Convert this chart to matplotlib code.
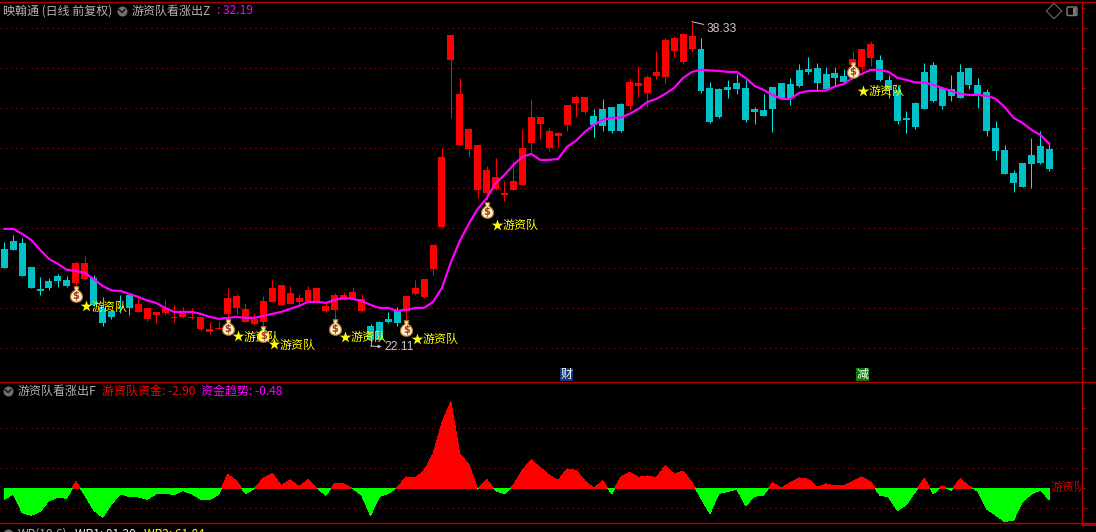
# -*- coding: utf-8 -*-
import numpy as np
import matplotlib
matplotlib.use('Agg')
import matplotlib.pyplot as plt
from matplotlib.patches import FancyBboxPatch, Rectangle
from matplotlib.path import Path

plt.rcParams['font.family'] = ['Noto Sans CJK SC', 'DejaVu Sans']

# daily bars, oldest first
open_ = [26.97, 27.37, 27.27, 26.07, 24.97, 25.37, 25.62, 25.42, 25.27, 25.47,
         25.52, 24.02, 23.87, 24.07, 24.67, 23.82, 23.47, 23.67, 23.77, 23.52,
         23.57, 23.52, 22.97, 22.82, 22.97, 23.72, 24.02, 23.32, 23.22, 23.32,
         24.32, 24.17, 24.22, 24.32, 24.32, 24.32, 23.87, 23.92, 24.42, 24.47,
         23.87, 23.12, 23.32, 23.47, 23.87, 23.87, 24.72, 24.57, 25.97, 28.07,
         36.42, 32.17, 31.97, 29.92, 29.77, 29.97, 29.67, 29.92, 30.17, 32.27,
         33.22, 32.02, 32.62, 33.17, 34.27, 33.82, 33.62, 33.97, 34.07, 34.22,
         34.12, 35.12, 34.77, 35.62, 35.57, 36.87, 36.32, 36.97, 36.97, 35.02,
         34.97, 35.07, 35.27, 35.02, 33.97, 33.92, 35.07, 35.27, 35.22, 35.92,
         35.97, 36.02, 35.72, 35.77, 35.62, 36.17, 36.07, 36.52, 36.42, 35.42,
         34.92, 33.52, 34.27, 35.82, 36.17, 35.02, 34.97, 35.82, 36.02, 35.17,
         34.82, 33.02, 31.92, 30.77, 31.27, 31.67, 32.12, 31.97]
close = [26.04, 26.92, 25.62, 25.02, 24.87, 25.02, 25.37, 25.12, 26.27, 26.27,
         24.17, 23.27, 23.57, 24.02, 24.02, 24.22, 24.02, 23.82, 24.02, 23.57,
         23.77, 23.57, 23.57, 22.97, 23.02, 24.52, 24.62, 23.97, 23.47, 24.37,
         25.02, 25.17, 24.77, 24.52, 24.92, 25.02, 24.12, 24.67, 24.67, 24.82,
         24.47, 22.42, 22.42, 23.32, 23.27, 24.62, 25.02, 25.47, 27.17, 31.57,
         37.67, 34.72, 32.97, 32.17, 30.92, 30.57, 29.77, 30.37, 32.02, 33.57,
         33.57, 32.87, 32.77, 34.17, 34.57, 34.57, 33.17, 33.12, 32.87, 32.87,
         35.32, 35.27, 35.57, 35.82, 37.42, 37.52, 37.72, 37.62, 34.87, 33.32,
         33.57, 34.92, 34.97, 33.42, 33.82, 33.62, 33.97, 34.52, 34.52, 35.12,
         35.82, 35.27, 34.97, 35.52, 35.32, 36.47, 36.97, 37.22, 35.42, 34.92,
         33.37, 33.42, 33.07, 33.97, 34.37, 34.12, 34.62, 34.52, 35.17, 34.72,
         32.87, 31.87, 30.72, 30.27, 30.07, 31.22, 31.27, 30.97]
high = [27.32, 27.67, 27.52, 26.07, 25.57, 25.52, 25.72, 25.62, 26.37, 26.62,
        25.67, 24.57, 23.92, 24.67, 24.67, 24.57, 24.02, 23.82, 24.42, 24.17,
        24.07, 24.02, 23.57, 23.32, 23.37, 25.02, 24.72, 24.27, 23.77, 24.62,
        25.42, 25.17, 25.12, 24.72, 25.12, 25.02, 24.27, 24.77, 24.82, 25.07,
        24.72, 23.22, 23.37, 23.82, 24.07, 24.67, 25.42, 25.47, 27.22, 32.02,
        37.67, 35.52, 33.02, 32.17, 31.12, 31.52, 30.37, 31.37, 32.97, 34.47,
        33.57, 33.07, 32.82, 34.17, 34.67, 34.57, 33.97, 34.47, 34.07, 34.27,
        35.52, 36.12, 35.67, 36.87, 37.52, 37.62, 37.72, 38.33, 37.52, 35.32,
        35.02, 35.42, 35.72, 35.42, 34.07, 34.72, 35.07, 35.27, 35.52, 36.22,
        36.57, 36.27, 36.07, 36.07, 35.97, 36.87, 36.97, 37.37, 36.67, 35.67,
        35.17, 33.87, 34.32, 36.27, 36.32, 35.02, 35.67, 36.22, 36.02, 35.52,
        34.97, 33.37, 32.17, 30.92, 31.27, 32.52, 32.87, 32.32]
low = [26.04, 26.92, 25.62, 25.02, 24.67, 24.92, 25.07, 25.07, 25.12, 25.42,
       24.12, 23.12, 23.47, 23.77, 23.67, 23.82, 23.37, 23.27, 23.67, 23.32,
       23.52, 23.47, 22.87, 22.72, 22.92, 23.17, 23.72, 23.32, 23.17, 23.12,
       24.32, 24.17, 24.22, 24.12, 24.32, 24.32, 23.82, 23.42, 24.42, 24.47,
       23.82, 22.11, 22.42, 23.27, 23.12, 23.42, 24.67, 24.52, 25.67, 28.07,
       33.52, 32.17, 31.57, 29.52, 29.42, 29.92, 29.37, 29.92, 30.17, 31.77,
       32.47, 31.87, 32.07, 32.87, 33.57, 33.72, 32.57, 32.87, 32.77, 32.82,
       33.92, 34.57, 34.07, 35.47, 35.22, 36.57, 36.22, 36.82, 34.77, 33.27,
       33.52, 34.52, 34.72, 33.32, 33.22, 33.62, 32.82, 34.52, 34.17, 35.07,
       35.72, 34.92, 34.92, 35.12, 35.27, 36.17, 35.87, 36.12, 35.37, 34.52,
       33.22, 32.77, 32.97, 33.97, 34.32, 33.97, 34.37, 34.52, 34.97, 34.02,
       32.62, 31.42, 30.72, 29.82, 30.07, 30.02, 31.22, 30.87]

# 游资队看涨出Z line
trend_z = [27.97, 27.97, 27.72, 27.42, 26.92, 26.47, 26.22, 25.92, 25.87, 25.77,
           25.47, 25.12, 24.89, 24.87, 24.72, 24.57, 24.39, 24.27, 24.02, 23.82,
           23.82, 23.82, 23.72, 23.57, 23.47, 23.52, 23.57, 23.52, 23.52, 23.62,
           23.72, 23.82, 23.97, 24.12, 24.32, 24.32, 24.27, 24.42, 24.52, 24.47,
           24.37, 24.17, 24.02, 24.02, 23.87, 23.92, 24.02, 24.02, 24.32, 25.02,
           26.30, 27.37, 28.22, 28.97, 29.50, 30.25, 30.67, 31.17, 31.57, 31.72,
           31.42, 31.42, 31.47, 32.07, 32.37, 32.82, 33.17, 33.42, 33.52, 33.53,
           33.72, 33.97, 34.32, 34.47, 34.72, 35.02, 35.52, 35.82, 35.93, 35.89,
           35.87, 35.82, 35.82, 35.52, 35.12, 34.92, 34.67, 34.47, 34.47, 34.77,
           34.87, 34.87, 34.89, 35.09, 35.22, 35.52, 35.72, 35.92, 35.92, 35.82,
           35.52, 35.42, 35.29, 35.29, 35.17, 35.02, 34.87, 34.72, 34.67, 34.67,
           34.62, 34.47, 34.07, 33.52, 33.27, 32.92, 32.67, 32.22]

# 游资队资金 lower panel
fund = [-2.75, -1.42, -6.08, -6.75, -5.83, -3.08, -2.25, -2.50, 1.67, -1.67,
        -5.42, -7.25, -3.92, -1.42, -2.08, -2.17, -2.75, -1.42, -1.25, -1.58,
        -0.58, -1.42, -2.75, -2.75, -1.58, 3.50, 1.83, -1.33, -0.08, 2.50,
        3.75, 0.67, 2.08, 0.42, 2.08, 0.08, -1.75, 1.25, 1.08, -0.08,
        -1.67, -6.75, -2.08, -1.25, 0.25, 2.83, 2.58, 4.42, 8.58, 16.42,
        21.67, 8.42, 6.08, -0.25, 2.25, -0.58, -1.33, 0.75, 4.58, 7.08,
        5.17, 3.33, 1.92, 4.83, 4.50, 1.83, 0.00, 1.83, -1.42, 2.75,
        4.00, 2.75, 3.08, 2.67, 5.58, 3.58, 4.25, 1.42, -2.50, -6.33,
        -1.25, -0.83, -0.17, -4.33, -2.00, -1.67, 1.33, 0.08, 1.42, 2.58,
        2.25, 0.25, 1.08, 0.58, 0.58, 1.75, 2.83, 1.58, -1.67, -2.17,
        -5.58, -4.08, -0.83, 2.50, -1.33, 0.58, -0.58, 2.33, 0.58, -0.75,
        -5.17, -6.75, -8.33, -7.92, -3.33, -1.42, -0.42, -2.90]

# signal bars and where the bag / star sit
signal_idx = [8, 25, 29, 37, 45, 54, 95]
bag_price = [24.72, 23.07, 22.72, 23.07, 23.02, 28.92, 35.92]
star_price = [24.10, 22.60, 22.20, 22.57, 22.47, 28.17, 34.87]
signal_text = '游资队'

price_ticks = [22, 24, 26, 28, 30, 32, 34, 36, 38]
price_minor = [21, 23, 25, 27, 29, 31, 33, 35, 37, 39]
fund_ticks = [-5, 5, 15]
fund_minor = [0, 10, 20]

RED = '#ff0000'
CYAN = '#00c0c8'
CYAN_WICK = '#00e8e8'
MAGENTA = '#ff00ff'
AXIS = '#b00000'
GRID = '#a00000'
GRAY = '#b4b4b4'
W, H = 1096, 532
PX = 0.72
TXT = 12 * PX

open_, close, high, low = map(np.array, (open_, close, high, low))
trend_z = np.array(trend_z)
fund = np.array(fund)
x = np.arange(len(close))
up = close >= open_

# money bag outline for scatter, y up
BAG = Path([(-0.30, 1.0), (0.30, 1.0), (0.18, 0.55), (0.18, 0.55),
            (1.0, 0.2), (1.0, -1.0), (0.0, -1.0),
            (-1.0, -1.0), (-1.0, 0.2), (-0.18, 0.55), (-0.30, 1.0)],
           [Path.MOVETO, Path.LINETO, Path.LINETO, Path.LINETO,
            Path.CURVE4, Path.CURVE4, Path.CURVE4,
            Path.CURVE4, Path.CURVE4, Path.CURVE4, Path.LINETO])

fig = plt.figure(figsize=(W / 100, H / 100), dpi=100, facecolor='black')


def make_axes(top, bottom):
    a = fig.add_axes([0, 1 - bottom / H, 1081.5 / W, (bottom - top) / H])
    a.set_facecolor('black')
    a.patch.set_alpha(0)
    for s in ['top', 'left', 'bottom']:
        a.spines[s].set_visible(False)
    a.spines['right'].set_color(AXIS)
    a.spines['right'].set_linewidth(1.4 * PX)
    a.yaxis.tick_right()
    a.set_xticks([])
    a.tick_params(axis='y', which='major', color=AXIS, length=5 * PX, width=PX, labelright=False)
    a.tick_params(axis='y', which='minor', color=AXIS, length=3 * PX, width=PX)
    a.set_xlim(-0.4815, 120.6)
    return a


# main panel
ax = make_axes(1.5, 382.3)
ax.set_ylim(39.415 - 382.3 / 20, 39.415 - 1.5 / 20)
ax.set_yticks(price_ticks)
ax.set_yticks(price_minor, minor=True)
ax.grid(axis='y', which='major', color=GRID, lw=PX, linestyle=(0, (1.2, 4)))
ax.set_axisbelow(True)

ax.vlines(x[up], low[up], high[up], color=RED, lw=PX, zorder=2)
ax.vlines(x[~up], low[~up], high[~up], color=CYAN_WICK, lw=PX, zorder=2)
ax.bar(x[up], (close - open_)[up], bottom=open_[up], width=0.78, color=RED, lw=0, zorder=3)
ax.bar(x[~up], (close - open_)[~up], bottom=open_[~up], width=0.78, color=CYAN, lw=0, zorder=3)
ax.plot(x, trend_z, color=MAGENTA, lw=2.2 * PX, zorder=4)

# bags and stars
sig = np.array(signal_idx)
bag = np.array(bag_price)
ax.scatter(sig, bag, s=125, marker=BAG, facecolor='#fdf0b8', edgecolor='#a87830', lw=0.8, zorder=6)
for i, b, s in zip(signal_idx, bag_price, star_price):
    ax.text(i, b - 0.1, '$', color='#a03a30', fontsize=7, fontweight='bold',
            ha='center', va='center', family='DejaVu Sans', zorder=7)
    ax.text(i + 1.8, s - 0.05, signal_text, color='#ffff00', fontsize=TXT, ha='left', va='center', zorder=7)
ax.scatter(sig + 1.15, star_price, s=75, marker='*', color='#ffff00', lw=0, zorder=7)

# high and low tags
top_i = int(np.argmax(high))
bot_i = int(np.argmin(low))
ax.annotate('%.2f' % high[top_i], xy=(top_i, high[top_i]), xytext=(10.5, -5),
            textcoords='offset points', color='#c8c8c8', fontsize=TXT, va='center',
            family='Liberation Sans',
            arrowprops=dict(arrowstyle='-', color='#c8c8c8', lw=0.7, shrinkA=0, shrinkB=0))
ax.annotate('%.2f' % low[bot_i], xy=(bot_i, low[bot_i]), xytext=(10, -1),
            textcoords='offset points', color='#c8c8c8', fontsize=TXT, va='center',
            family='Liberation Sans',
            arrowprops=dict(arrowstyle='<-', color='#c8c8c8', lw=0.7, shrinkA=0, shrinkB=0,
                            mutation_scale=5))

# lower panel
ax2 = make_axes(382.3, 523.3)
ax2.set_ylim((488.3 - 523.3) / 4, (488.3 - 382.3) / 4)
ax2.set_yticks(fund_ticks)
ax2.set_yticks(fund_minor, minor=True)
ax2.grid(axis='y', which='major', color=GRID, lw=PX, linestyle=(0, (1.2, 4)))
ax2.set_axisbelow(True)
ax2.fill_between(x, fund, 0, where=fund >= 0, interpolate=True, color=RED, lw=0, antialiased=False, zorder=2)
ax2.fill_between(x, fund, 0, where=fund <= 0, interpolate=True, color='#00ff00', lw=0, antialiased=False, zorder=2)

# overlay in pixels for header text and frame
ov = fig.add_axes([0, 0, 1, 1])
ov.set_xlim(0, W)
ov.set_ylim(H, 0)
ov.axis('off')
ov.patch.set_alpha(0)

for yy in [1.5, 382.3, 523.3]:
    ov.plot([0, W], [yy, yy], color=AXIS, lw=1.4 * PX, clip_on=False)
ov.plot([1081.5, W], [524.5, 524.5], color=AXIS, lw=2 * PX)


def label(px_x, px_y, s, color, **kw):
    return ov.text(px_x, px_y, s, color=color, fontsize=TXT, ha='left', va='center', clip_on=False, **kw)


def chevron(cx, cy):
    ov.scatter([cx], [cy], s=52, color='#707070', lw=0)
    ov.plot([cx - 3, cx, cx + 3], [cy - 1.5, cy + 1.5, cy - 1.5], color='#101010', lw=1.3 * PX)


label(3, 11, '映翰通 (日线 前复权)', GRAY)
chevron(122, 11)
label(132, 11, '游资队看涨出Z', GRAY)
label(217, 11, ': 32.19', MAGENTA)

chevron(8, 391)
label(18, 391, '游资队看涨出F', GRAY)
label(102, 391, '游资队资金: -2.90', RED)
label(201, 391, '资金趋势: -0.48', MAGENTA)

chevron(8, 534)
label(18, 534, 'WR(10,6)', GRAY)
label(75, 534, 'WR1: 81.20', '#f0f0f0')
label(144, 534, 'WR2: 61.84', '#ffff00')

tag = label(1051, 487, '游资队', '#d00000')
tag.set_clip_on(True)
tag.set_clip_box(matplotlib.transforms.Bbox([[0, 0], [1081, H]]))

# 财 / 减 tags
ov.add_patch(Rectangle((560, 368), 13, 13, color='#103a78', lw=0))
ov.text(566.5, 374.2, '财', color='white', fontsize=TXT, ha='center', va='center')
ov.add_patch(Rectangle((856, 368), 13, 13, color='#0a7a0a', lw=0))
ov.text(862.5, 374.2, '减', color='white', fontsize=TXT, ha='center', va='center')

# window buttons
ov.scatter([1054], [11], s=62, marker='D', facecolor='none', edgecolor='#787878', lw=0.7)
ov.add_patch(FancyBboxPatch((1067, 7), 10, 8.5, boxstyle='round,pad=0,rounding_size=1.5',
                            facecolor='none', edgecolor='#787878', lw=1.1))
ov.add_patch(Rectangle((1073, 8), 3, 7, color='#787878', lw=0))

fig.savefig('out.png', dpi=100, facecolor='black')
